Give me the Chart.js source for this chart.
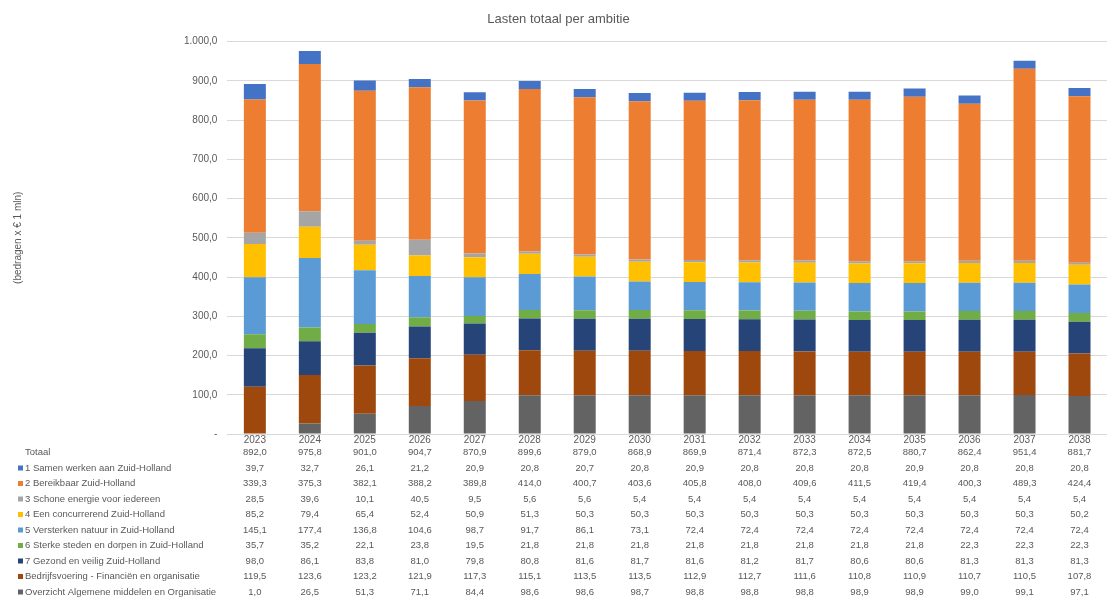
<!DOCTYPE html>
<html lang="nl">
<head>
<meta charset="utf-8">
<title>Lasten totaal per ambitie</title>
<script src="https://cdn.jsdelivr.net/npm/chart.js@4/dist/chart.umd.min.js"></script>
<style>
  html, body { margin: 0; padding: 0; background: #ffffff; }
  #wrap { width: 1108px; height: 597px; position: relative; }
</style>
</head>
<body>
<div id="wrap"><canvas id="lasten"></canvas></div>
<script>
const jaren = ['2023', '2024', '2025', '2026', '2027', '2028', '2029', '2030',
  '2031', '2032', '2033', '2034', '2035', '2036', '2037', '2038'];

const totaal = [892.0, 975.8, 901.0, 904.7, 870.9, 899.6, 879.0, 868.9,
  869.9, 871.4, 872.3, 872.5, 880.7, 862.4, 951.4, 881.7];

const samenWerken = [39.7, 32.7, 26.1, 21.2, 20.9, 20.8, 20.7, 20.8,
  20.9, 20.8, 20.8, 20.8, 20.9, 20.8, 20.8, 20.8];
const bereikbaar = [339.3, 375.3, 382.1, 388.2, 389.8, 414.0, 400.7, 403.6,
  405.8, 408.0, 409.6, 411.5, 419.4, 400.3, 489.3, 424.4];
const schoneEnergie = [28.5, 39.6, 10.1, 40.5, 9.5, 5.6, 5.6, 5.4,
  5.4, 5.4, 5.4, 5.4, 5.4, 5.4, 5.4, 5.4];
const concurrerend = [85.2, 79.4, 65.4, 52.4, 50.9, 51.3, 50.3, 50.3,
  50.3, 50.3, 50.3, 50.3, 50.3, 50.3, 50.3, 50.2];
const natuur = [145.1, 177.4, 136.8, 104.6, 98.7, 91.7, 86.1, 73.1,
  72.4, 72.4, 72.4, 72.4, 72.4, 72.4, 72.4, 72.4];
const stedenDorpen = [35.7, 35.2, 22.1, 23.8, 19.5, 21.8, 21.8, 21.8,
  21.8, 21.8, 21.8, 21.8, 21.8, 22.3, 22.3, 22.3];
const gezondVeilig = [98.0, 86.1, 83.8, 81.0, 79.8, 80.8, 81.6, 81.7,
  81.6, 81.2, 81.7, 80.6, 80.6, 81.3, 81.3, 81.3];
const bedrijfsvoering = [119.5, 123.6, 123.2, 121.9, 117.3, 115.1, 113.5, 113.5,
  112.9, 112.7, 111.6, 110.8, 110.9, 110.7, 110.5, 107.8];
const algemeneMiddelen = [1.0, 26.5, 51.3, 71.1, 84.4, 98.6, 98.6, 98.7,
  98.8, 98.8, 98.8, 98.9, 98.9, 99.0, 99.1, 97.1];

// volgorde zoals in de tabel onder de grafiek
const reeksen = [
  { naam: '1 Samen werken aan Zuid-Holland', data: samenWerken, kleur: '#4472C4' },
  { naam: '2 Bereikbaar Zuid-Holland', data: bereikbaar, kleur: '#ED7D31' },
  { naam: '3 Schone energie voor iedereen', data: schoneEnergie, kleur: '#A5A5A5' },
  { naam: '4 Een concurrerend Zuid-Holland', data: concurrerend, kleur: '#FFC000' },
  { naam: '5 Versterken natuur in Zuid-Holland', data: natuur, kleur: '#5B9BD5' },
  { naam: '6 Sterke steden en dorpen in Zuid-Holland', data: stedenDorpen, kleur: '#70AD47' },
  { naam: '7 Gezond en veilig Zuid-Holland', data: gezondVeilig, kleur: '#264478' },
  { naam: 'Bedrijfsvoering - Financiën en organisatie', data: bedrijfsvoering, kleur: '#9E480E' },
  { naam: 'Overzicht Algemene middelen en Organisatie', data: algemeneMiddelen, kleur: '#636363' }
];

const tekstKleur = '#595959';
const lettertype = 'Arial, "Liberation Sans", sans-serif';

function bedrag(v) {
  const [heel, dec] = v.toFixed(1).split('.');
  return heel.replace(/\B(?=(\d{3})+(?!\d))/g, '.') + ',' + dec;
}

// tabel met waarden onder de x-as, kolommen uitgelijnd op de staven
const tabelPlugin = {
  id: 'gegevensTabel',
  afterDraw(chart) {
    const ctx = chart.ctx;
    const x = chart.scales.x;
    ctx.save();
    ctx.font = '9.5px ' + lettertype;
    ctx.fillStyle = tekstKleur;
    ctx.textBaseline = 'middle';

    const rijen = [{ naam: 'Totaal', data: totaal, kleur: null }].concat(reeksen);
    rijen.forEach((rij, r) => {
      const y = r === 0 ? 452 : 468 + (r - 1) * 15.5;
      if (rij.kleur) {
        ctx.fillStyle = rij.kleur;
        ctx.fillRect(18, y - 2.5, 5, 5);
      }
      ctx.fillStyle = tekstKleur;
      ctx.textAlign = 'left';
      ctx.fillText(rij.naam, 25, y);
      ctx.textAlign = 'center';
      rij.data.forEach((v, i) => {
        ctx.fillText(bedrag(v), x.getPixelForValue(i), y);
      });
    });
    ctx.restore();
  }
};

new Chart(document.getElementById('lasten'), {
  type: 'bar',
  data: {
    labels: jaren,
    // onderste segment eerst
    datasets: reeksen.slice().reverse().map(s => ({
      label: s.naam,
      data: s.data,
      backgroundColor: s.kleur,
      borderWidth: 0,
      barPercentage: 0.5,
      categoryPercentage: 0.8
    }))
  },
  options: {
    responsive: true,
    maintainAspectRatio: false,
    animation: false,
    layout: { padding: { left: 10, right: 1, top: 0, bottom: 151 } },
    plugins: {
      legend: { display: false },
      tooltip: { enabled: false },
      title: {
        display: true,
        text: 'Lasten totaal per ambitie',
        color: tekstKleur,
        font: { family: lettertype, size: 13, weight: 'normal' },
        padding: { top: 12, bottom: 14 }
      }
    },
    scales: {
      x: {
        stacked: true,
        grid: { display: false, drawTicks: false },
        border: { display: false },
        ticks: {
          color: tekstKleur,
          font: { family: lettertype, size: 10 },
          padding: 0,
          maxRotation: 0
        }
      },
      y: {
        stacked: true,
        min: 0,
        max: 1000,
        border: { display: false },
        grid: { color: '#D9D9D9', drawTicks: false },
        ticks: {
          stepSize: 100,
          padding: 10,
          color: tekstKleur,
          font: { family: lettertype, size: 10 },
          callback: v => v === 0 ? '-' : bedrag(v)
        },
        title: {
          display: true,
          text: '(bedragen x € 1 mln)',
          color: tekstKleur,
          font: { family: lettertype, size: 10 },
          padding: { top: 2, bottom: 150 }
        }
      }
    }
  },
  plugins: [tabelPlugin]
});
</script>
</body>
</html>
